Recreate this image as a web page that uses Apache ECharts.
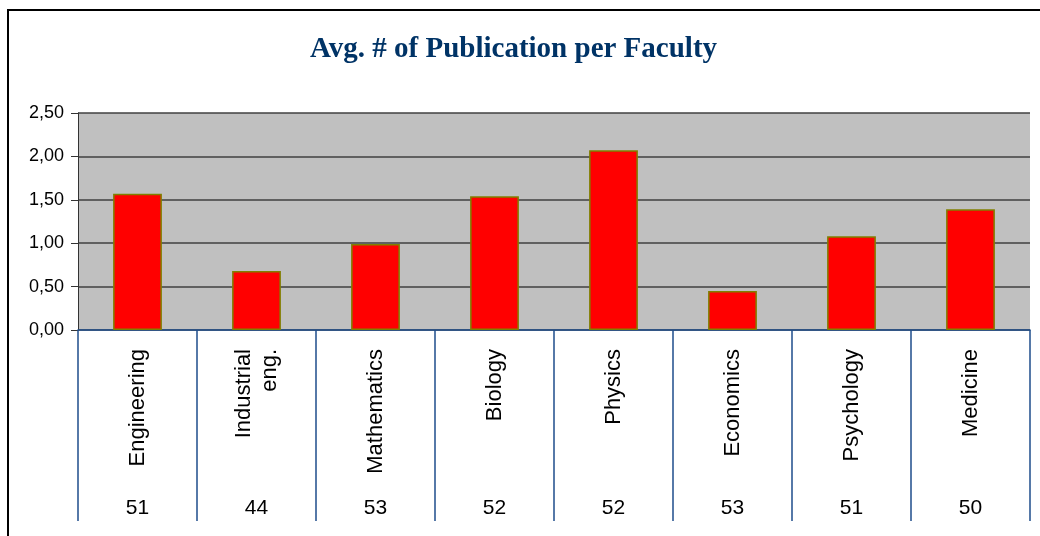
<!DOCTYPE html>
<html>
<head>
<meta charset="utf-8">
<script src="https://cdn.jsdelivr.net/npm/echarts@6/dist/echarts.min.js"></script>
<style>
    html, body { margin: 0; padding: 0; background: #fff; }
    #main { width: 1040px; height: 536px; }
</style>
</head>
<body>
<div id="main"></div>
<script>
// faculty names and the counts shown in the second row
let categories = ['Engineering', 'Industrial\neng.', 'Mathematics', 'Biology', 'Physics', 'Economics', 'Psychology', 'Medicine'];
let facultyCounts = ['51', '44', '53', '52', '52', '53', '51', '50'];
let avgPublications = [1.57, 0.68, 0.99, 1.54, 2.07, 0.45, 1.08, 1.39];
let yTicks = { min: 0, max: 2.5, interval: 0.5 };

let tableBlue = '#1f4e8c';

let option = {
    animation: false,
    title: {
        show: true,
        text: 'Avg. # of Publication per Faculty',
        left: 310,
        top: 35,
        padding: 0,
        textStyle: {
            fontFamily: '"Liberation Serif", "Times New Roman", serif',
            fontWeight: 'bold',
            fontSize: 29,
            color: '#003366'
        }
    },
    graphic: [{
        // outer frame, right/bottom edges run off the picture
        type: 'rect',
        shape: { x: 8, y: 10, width: 1100, height: 600 },
        style: { fill: 'none', stroke: '#000', lineWidth: 2 },
        silent: true
    }],
    grid: {
        left: 78,
        right: 10,
        top: 113,
        bottom: 206,
        show: true,
        backgroundColor: '#c0c0c0',
        borderWidth: 0
    },
    xAxis: [
        {
            type: 'category',
            data: categories,
            position: 'bottom',
            axisLine: { show: true, lineStyle: { color: tableBlue, width: 1.5 } },
            axisTick: { show: true, length: 191, interval: 0, lineStyle: { color: tableBlue, width: 1.5 } },
            axisLabel: {
                interval: 0,
                rotate: 90,
                margin: 19,
                fontFamily: 'Arial, "Liberation Sans", sans-serif',
                fontSize: 22,
                color: '#000',
                lineHeight: 26
            }
        },
        {
            type: 'category',
            data: facultyCounts,
            position: 'bottom',
            axisLine: { show: false },
            axisTick: { show: false },
            axisLabel: {
                interval: 0,
                margin: 168,
                fontFamily: 'Arial, "Liberation Sans", sans-serif',
                fontSize: 21,
                color: '#000'
            }
        }
    ],
    yAxis: {
        type: 'value',
        min: yTicks.min,
        max: yTicks.max,
        interval: yTicks.interval,
        axisLine: { show: true, lineStyle: { color: '#333', width: 1 } },
        axisTick: { show: true, length: 7, lineStyle: { color: '#333' } },
        axisLabel: {
            margin: 14,
            fontFamily: 'Arial, "Liberation Sans", sans-serif',
            fontSize: 18,
            color: '#000',
            formatter: function (v) {
                return v.toFixed(2).replace('.', ',');
            }
        },
        splitLine: { show: true, lineStyle: { color: '#404040', width: 1.5 } }
    },
    series: [
        {
            name: 'Avg. # of Publication',
            type: 'bar',
            xAxisIndex: 0,
            data: avgPublications,
            barWidth: '41%',
            itemStyle: {
                color: '#ff0000',
                borderColor: '#808000',
                borderWidth: 1.5
            }
        }
    ]
};

let myChart = echarts.init(document.getElementById('main'));
myChart.setOption(option);
</script>
</body>
</html>
